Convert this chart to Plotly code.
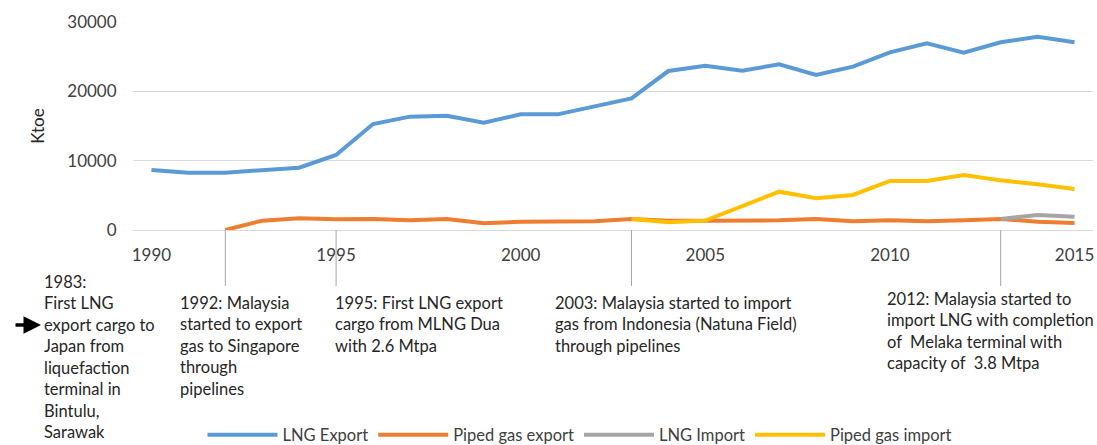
import plotly.graph_objects as go

years = list(range(1990, 2016))
lng_export = [8650, 8270, 8270, 8650, 8990, 10820, 15290, 16350, 16490, 15480,
              16680, 16680, 17890, 18990, 22930, 23700, 22980, 23900, 22360, 23560,
              25620, 26920, 25580, 27070, 27880, 27070]
piped_export = [None, None, 0, 1350, 1680, 1540, 1590, 1390, 1590, 960,
                1200, 1250, 1250, 1590, 1340, 1340, 1390, 1390, 1590, 1250,
                1390, 1250, 1390, 1590, 1200, 1010]
lng_import = [None] * 23 + [1590, 2160, 1920]
piped_import = [None] * 13 + [1590, 1110, 1350, 3450, 5530, 4570, 5050,
                              7070, 7070, 7930, 7160, 6590, 5910]

series = [
    ("LNG Export", lng_export, "#5b9bd5"),
    ("Piped gas export", piped_export, "#ed7d31"),
    ("LNG Import", lng_import, "#a5a5a5"),
    ("Piped gas import", piped_import, "#ffc000"),
]

x_tick_vals = [1990, 1995, 2000, 2005, 2010, 2015]
x_tick_text = ["1990", "1995", "2000", "2005", "2010", "2015"]
y_tick_vals = [0, 10000, 20000, 30000]
y_tick_text = ["0", "10000", "20000", "30000"]

event_years = [1992, 1995, 2003, 2013]

FONT = "Lato"
fig = go.Figure()
for name, vals, col in series:
    fig.add_trace(go.Scatter(x=years, y=vals, mode="lines", name=name,
                             line=dict(color=col, width=4), connectgaps=False))

W, H = 1097, 445
# plot area in page pixels: left 133, right 1093, top 22, bottom 230
L, R, T, B = 133, 1093, 22, 230
def px(x):
    return (x - L) / (R - L)
def py(y):
    return (B - y) / (B - T)

shapes = []
for ey in event_years:
    shapes.append(dict(type="line", xref="x", yref="paper", x0=ey, x1=ey,
                       y0=0, y1=py(286), line=dict(color="#a6a6a6", width=1)))

notes = [
    (42, 270, "1983:<br>First LNG<br>export cargo to<br>Japan from<br>liquefaction<br>terminal in<br>Bintulu,<br>Sarawak"),
    (178, 291, "1992: Malaysia<br>started to export<br>gas to Singapore<br>through<br>pipelines"),
    (333, 291, "1995: First LNG export<br>cargo from MLNG Dua<br>with 2.6 Mtpa"),
    (553, 291, "2003: Malaysia started to import<br>gas from Indonesia (Natuna Field)<br>through pipelines"),
    (885, 287, "2012: Malaysia started to<br>import LNG with completion<br>of  Melaka terminal with<br>capacity of  3.8 Mtpa"),
]
annotations = []
for x, y, t in notes:
    annotations.append(dict(xref="paper", yref="paper", x=px(x), y=py(y),
                            xanchor="left", yanchor="top", align="left",
                            text=t, showarrow=False,
                            font=dict(family=FONT, size=16.5, color="#262626")))
annotations.append(dict(xref="paper", yref="paper", x=px(41), y=py(325),
                        ax=-27, ay=0, text="", showarrow=True, arrowhead=2,
                        arrowsize=1, arrowwidth=3.5, arrowcolor="black"))

fig.update_layout(
    width=W, height=H,
    margin=dict(l=L, r=W - R, t=T, b=H - B, autoexpand=False),
    plot_bgcolor="white", paper_bgcolor="white",
    font=dict(family=FONT, size=16, color="#404040"),
    showlegend=True,
    legend=dict(orientation="h", x=px(580), xanchor="center", y=py(435),
                yanchor="middle", font=dict(family=FONT, size=16.5, color="#404040"),
                itemwidth=70, tracegroupgap=0),
    shapes=shapes, annotations=annotations,
    xaxis=dict(range=[1989.5, 2015.5], tickmode="array",
               tickvals=x_tick_vals, ticktext=x_tick_text, automargin=False,
               showgrid=False, zeroline=False, showline=False,
               ticks="outside", ticklen=10, tickcolor="rgba(0,0,0,0)",
               tickfont=dict(family=FONT, size=17, color="#404040")),
    yaxis=dict(range=[0, 30000], tickmode="array", tickvals=y_tick_vals,
               ticktext=y_tick_text, automargin=False,
               showgrid=True, gridcolor="#d9d9d9", gridwidth=1,
               zeroline=True, zerolinecolor="#d9d9d9", zerolinewidth=1,
               showline=False, ticks="outside", ticklen=12,
               tickcolor="rgba(0,0,0,0)",
               tickfont=dict(family=FONT, size=17, color="#404040"),
               title=dict(text="Ktoe", standoff=18,
                          font=dict(family=FONT, size=17, color="#262626"))),
)

fig.write_html("out.html", config={"displayModeBar": False},
               post_script="document.body.style.margin='0';document.body.style.overflow='hidden';")
